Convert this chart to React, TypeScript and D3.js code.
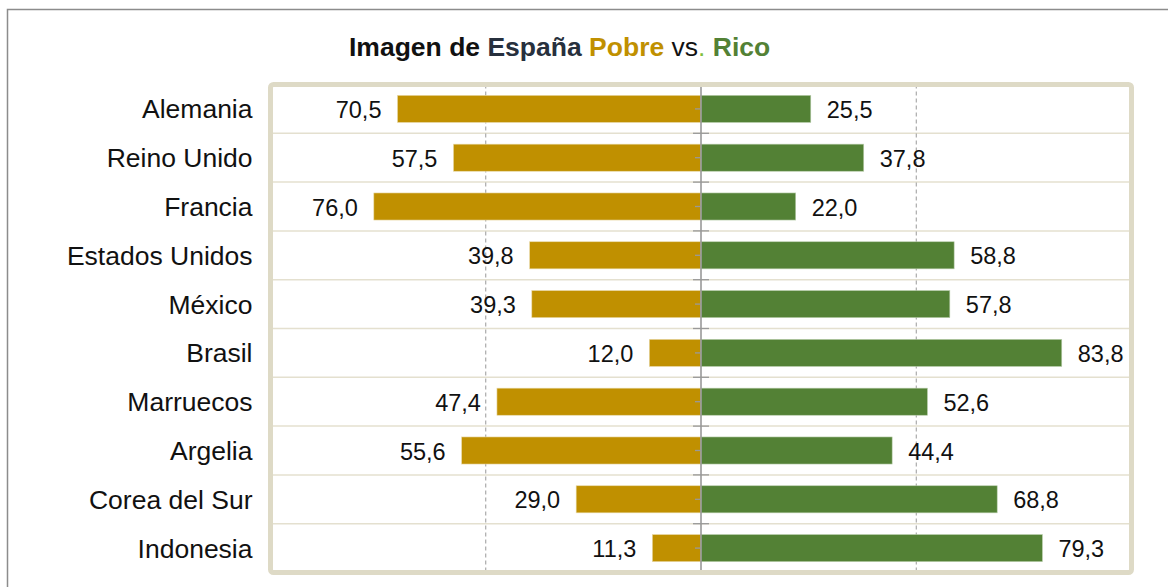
import React, { useEffect, useRef } from "react";
import * as d3 from "d3";

// countries, top to bottom
const countries = [
  "Alemania",
  "Reino Unido",
  "Francia",
  "Estados Unidos",
  "México",
  "Brasil",
  "Marruecos",
  "Argelia",
  "Corea del Sur",
  "Indonesia",
];
const pobre = [70.5, 57.5, 76.0, 39.8, 39.3, 12.0, 47.4, 55.6, 29.0, 11.3];
const rico = [25.5, 37.8, 22.0, 58.8, 57.8, 83.8, 52.6, 44.4, 68.8, 79.3];
const gridValues = [-50, 50];

const GOLD = "#c09000";
const GREEN = "#538135";
const FONT = "'Liberation Sans', Arial, Helvetica, sans-serif";

const App = () => {
  const ref = useRef<SVGSVGElement>(null);

  useEffect(() => {
    const svg = d3.select(ref.current);
    svg.selectAll("*").remove();

    const left = 270.5;
    const right = 1131.5;
    const top = 84.5;
    const bottom = 572.5;

    const x = d3.scaleLinear().domain([-100, 100]).range([left, right]);
    const y = d3.scaleBand<string>().domain(countries).range([top, bottom]);
    const barH = y.bandwidth() * 0.555;
    const fmt = (v: number) => d3.format(".1f")(v).replace(".", ",");

    // outer border
    svg
      .append("rect")
      .attr("x", 7.5)
      .attr("y", 9.5)
      .attr("width", 1300)
      .attr("height", 700)
      .attr("fill", "none")
      .attr("stroke", "#8c8c8c")
      .attr("stroke-width", 1.5);

    // title
    const title = svg
      .append("text")
      .attr("x", 349)
      .attr("y", 56)
      .attr("font-family", FONT)
      .attr("font-size", 26.5)
      .attr("font-weight", "bold");
    const parts: [string, string, string][] = [
      ["Imagen de ", "#111", "bold"],
      ["España ", "#27303d", "bold"],
      ["Pobre ", GOLD, "bold"],
      ["vs", "#111", "normal"],
      [".", "#7fbf3f", "normal"],
      [" Rico", GREEN, "bold"],
    ];
    parts.forEach(([t, c, w]) => {
      title.append("tspan").attr("fill", c).attr("font-weight", w).text(t);
    });

    // plot background
    svg
      .append("rect")
      .attr("x", left)
      .attr("y", top)
      .attr("width", right - left)
      .attr("height", bottom - top)
      .attr("fill", "#fff");

    // row separators
    svg
      .append("g")
      .selectAll("line")
      .data(countries.slice(1))
      .join("line")
      .attr("x1", left)
      .attr("x2", right)
      .attr("y1", (d) => y(d)!)
      .attr("y2", (d) => y(d)!)
      .attr("stroke", "#e4e0cf")
      .attr("stroke-width", 1.5);

    // dashed grid
    svg
      .append("g")
      .selectAll("line")
      .data(gridValues)
      .join("line")
      .attr("x1", (d) => x(d))
      .attr("x2", (d) => x(d))
      .attr("y1", top)
      .attr("y2", bottom)
      .attr("stroke", "#999")
      .attr("stroke-width", 1)
      .attr("stroke-dasharray", "4,3");

    // bars
    const bars = svg.append("g");
    bars
      .selectAll("rect.pobre")
      .data(countries)
      .join("rect")
      .attr("class", "pobre")
      .attr("x", (_, i) => x(-pobre[i]))
      .attr("y", (d) => y(d)! + (y.bandwidth() - barH) / 2)
      .attr("width", (_, i) => x(0) - x(-pobre[i]))
      .attr("height", barH)
      .attr("fill", GOLD)
      .attr("stroke", "#e8d9a8")
      .attr("stroke-width", 0.6);
    bars
      .selectAll("rect.rico")
      .data(countries)
      .join("rect")
      .attr("class", "rico")
      .attr("x", x(0))
      .attr("y", (d) => y(d)! + (y.bandwidth() - barH) / 2)
      .attr("width", (_, i) => x(rico[i]) - x(0))
      .attr("height", barH)
      .attr("fill", GREEN)
      .attr("stroke", "#b9cdac")
      .attr("stroke-width", 0.6);

    // value labels
    const labels = svg
      .append("g")
      .attr("font-family", FONT)
      .attr("font-size", 23.5)
      .attr("fill", "#111");
    labels
      .selectAll("text.p")
      .data(countries)
      .join("text")
      .attr("class", "p")
      .attr("x", (_, i) => x(-pobre[i]) - 16)
      .attr("y", (d) => y(d)! + y.bandwidth() / 2 + 9)
      .attr("text-anchor", "end")
      .text((_, i) => fmt(pobre[i]));
    labels
      .selectAll("text.r")
      .data(countries)
      .join("text")
      .attr("class", "r")
      .attr("x", (_, i) => x(rico[i]) + 16)
      .attr("y", (d) => y(d)! + y.bandwidth() / 2 + 9)
      .attr("text-anchor", "start")
      .text((_, i) => fmt(rico[i]));

    // center axis with ticks
    const axis = svg.append("g").attr("stroke", "#999");
    axis
      .append("line")
      .attr("x1", x(0))
      .attr("x2", x(0))
      .attr("y1", top)
      .attr("y2", bottom)
      .attr("stroke-width", 1.6);
    const bounds = countries.map((d) => y(d)!).concat([bottom]);
    axis
      .selectAll("line.major")
      .data(bounds)
      .join("line")
      .attr("class", "major")
      .attr("x1", x(0) - 8)
      .attr("x2", x(0) + 8)
      .attr("y1", (d) => d)
      .attr("y2", (d) => d)
      .attr("stroke-width", 1.3);
    axis
      .selectAll("line.minor")
      .data(countries)
      .join("line")
      .attr("class", "minor")
      .attr("x1", x(0) - 6)
      .attr("x2", x(0))
      .attr("y1", (d) => y(d)! + y.bandwidth() / 2)
      .attr("y2", (d) => y(d)! + y.bandwidth() / 2)
      .attr("stroke-width", 1.3);

    // frame
    svg
      .append("rect")
      .attr("x", left)
      .attr("y", top)
      .attr("width", right - left)
      .attr("height", bottom - top)
      .attr("rx", 3)
      .attr("fill", "none")
      .attr("stroke", "#dedac6")
      .attr("stroke-width", 5);

    // category labels
    svg
      .append("g")
      .attr("font-family", FONT)
      .attr("font-size", 26.5)
      .attr("fill", "#111")
      .attr("text-anchor", "end")
      .selectAll("text")
      .data(countries)
      .join("text")
      .attr("x", 252.5)
      .attr("y", (d) => y(d)! + y.bandwidth() / 2 + 9.5)
      .text((d) => d);
  }, []);

  return (
    <svg
      ref={ref}
      width={1168}
      height={587}
      style={{ position: "absolute", left: 0, top: 0, background: "#fff" }}
    />
  );
};

export default App;
